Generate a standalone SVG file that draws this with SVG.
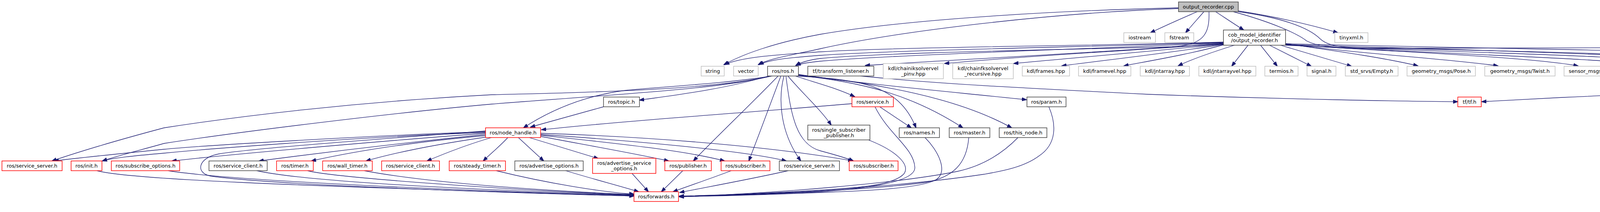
<svg xmlns="http://www.w3.org/2000/svg" width="5028" height="544" viewBox="0 0 5028 544">
<style>
rect{fill:#ffffff;stroke-width:1.5}
.g{stroke:#bfbfbf}
.k{stroke:#404040}
.r{stroke:#ff0000}
.m{fill:#bfbfbf;stroke:#404040}
text{font-family:"DejaVu Sans","Noto Sans",sans-serif;font-size:13px;text-anchor:middle;fill:#000000}
.e path{fill:none;stroke:#191970;stroke-width:1.3;marker-end:url(#a)}
</style>
<defs>
<marker id="a" viewBox="0 0 13 10" refX="12" refY="5" markerWidth="13" markerHeight="10" markerUnits="userSpaceOnUse" orient="auto"><path d="M0,0.5 L13,5 L0,9.5 z" fill="#191970" stroke="#191970" stroke-width="1"/></marker>
</defs>
<rect x="0" y="0" width="5028" height="544" style="fill:#ffffff;stroke:none"/>
<g id="edges" class="e">
<path d="M3065,30 C3030,45 2985,65 2945,84"/>
<path d="M3082,30 C3070,44 3052,64 3035,84"/>
<path d="M3112,30 C3135,45 3160,62 3184,77"/>
<path d="M3017,20 C2760,26 2350,45 2100,88 C1980,110 1900,140 1853,166"/>
<path d="M3017,22 C2700,32 2300,80 2100,125 C2020,143 1970,150 1941,166"/>
<path d="M3095,30 C3097,90 3080,115 3000,120 C2700,128 2250,135 2100,150 C2070,154 2050,160 2037,168"/>
<path d="M3170,28 C3260,42 3350,62 3425,84"/>
<path d="M3170,30 C3280,45 3350,70 3380,100 C3400,118 3430,122 3500,123 C3900,126 4400,115 4620,133 C4750,145 4850,158 4917,169"/>
<path d="M3157,30 C3250,55 3320,85 3345,105 C3370,118 3400,122 3500,124 C3900,130 4400,145 4620,159 C4660,162 4690,165 4708,169"/>
<path d="M3132,108 C2800,118 2300,120 2100,133 C2000,140 1900,145 1855,166"/>
<path d="M3132,109 C2800,120 2300,128 2100,142 C2020,148 1970,153 1943,166"/>
<path d="M3132,110 C2800,125 2300,140 2100,157 C2070,160 2050,163 2038,168"/>
<path d="M3132,111 C2900,130 2500,150 2215,168"/>
<path d="M3132,112 C2900,130 2600,145 2418,163"/>
<path d="M3132,113 C2950,132 2750,148 2595,163"/>
<path d="M3132,114 C3000,135 2850,152 2718,169"/>
<path d="M3132,115 C3050,138 2950,155 2877,169"/>
<path d="M3160,116 C3100,135 3050,152 3016,169"/>
<path d="M3195,116 L3153,170"/>
<path d="M3227,116 L3270,170"/>
<path d="M3250,116 L3357,170"/>
<path d="M3278,116 L3460,170"/>
<path d="M3291,112 C3450,135 3550,150 3630,169"/>
<path d="M3291,113 C3500,140 3700,150 3835,169"/>
<path d="M3291,114 C3600,135 3900,145 4040,169"/>
<path d="M3291,115 C3700,140 4100,148 4233,169"/>
<path d="M3291,116 C3700,135 4200,140 4358,169"/>
<path d="M3291,114 C3800,130 4300,140 4493,169"/>
<path d="M3291,112 C3900,128 4500,130 4620,153 C4750,156 4860,158 4910,169"/>
<path d="M2203,195 C2400,215 2600,225 2940,242 C3300,255 3600,260 3732,261"/>
<path d="M4707,195 C4500,220 4200,242 4000,250 C3900,255 3850,258 3793,261"/>
<path d="M1977,195 C1850,215 1700,222 1600,232 C1480,248 1395,292 1340,328"/>
<path d="M1975,195 C1850,225 1600,236 1260,243 C900,262 600,300 420,328 C300,360 200,390 133,413"/>
<path d="M1972,195 C1850,228 1600,240 1260,267 C1000,290 600,340 420,368 C360,385 300,400 262,413"/>
<path d="M1968,195 C1850,230 1720,245 1637,257"/>
<path d="M1992,195 C1930,260 1830,355 1775,413"/>
<path d="M1999,195 C1975,260 1945,340 1917,413"/>
<path d="M2007,195 C1995,240 1990,330 2050,413"/>
<path d="M2012,195 C2025,300 2040,370 2100,387 C2130,395 2160,403 2185,413"/>
<path d="M2017,195 C2050,235 2100,280 2128,321"/>
<path d="M2036,195 C2080,210 2140,225 2188,248"/>
<path d="M2040,195 C2200,205 2300,215 2345,328"/>
<path d="M2042,193 C2200,210 2330,240 2465,328"/>
<path d="M2043,192 C2250,215 2450,250 2590,328"/>
<path d="M2044,191 C2200,215 2450,237 2628,256"/>
<path d="M1545,274 L1358,326"/>
<path d="M2181,266 C1900,290 1600,310 1386,333"/>
<path d="M2252,274 L2333,328"/>
<path d="M2240,274 C2275,345 2340,380 2342,430 C2343,470 2200,485 2100,492 C1950,500 1800,503 1739,504"/>
<path d="M2223,359 C2290,385 2330,420 2315,445 C2290,475 2200,482 2100,488 C1950,497 1800,502 1739,503"/>
<path d="M2368,353 C2400,385 2430,440 2395,462 C2350,485 2200,490 2100,494 C1950,500 1800,504 1739,504"/>
<path d="M2480,353 C2475,420 2440,455 2370,468 C2250,485 2000,497 1739,505"/>
<path d="M2606,353 C2570,390 2520,425 2450,440 C2300,470 2000,495 1739,505"/>
<path d="M2685,274 C2705,320 2705,370 2660,400 C2620,430 2560,440 2520,447 C2300,480 2000,497 1739,505"/>
<path d="M1243,338 C900,350 500,375 420,383 C300,395 200,405 138,413"/>
<path d="M1243,340 C900,352 500,385 420,393 C340,400 290,405 262,413"/>
<path d="M1243,342 C1000,360 600,395 440,413"/>
<path d="M1243,345 C1000,370 800,395 663,413"/>
<path d="M1243,348 C1050,365 900,390 797,413"/>
<path d="M1243,352 C1120,370 1010,392 937,413"/>
<path d="M1258,353 C1200,370 1140,393 1093,413"/>
<path d="M1300,353 C1280,375 1255,395 1237,413"/>
<path d="M1327,353 L1392,413"/>
<path d="M1355,353 L1532,407"/>
<path d="M1384,350 C1500,372 1620,393 1712,413"/>
<path d="M1384,347 C1550,365 1750,385 1855,413"/>
<path d="M1384,345 C1600,360 1900,385 2013,413"/>
<path d="M1384,342 C1700,352 2000,380 2183,413"/>
<path d="M1243,336 C1000,355 650,380 560,395 C505,405 500,445 540,452 C700,475 1300,495 1623,503"/>
<path d="M248,438 C330,460 700,475 1623,503"/>
<path d="M430,438 C600,465 1200,490 1623,502"/>
<path d="M657,438 C800,470 1300,490 1623,501"/>
<path d="M787,438 C850,455 1300,488 1623,500"/>
<path d="M932,438 C1100,470 1400,490 1623,499"/>
<path d="M1270,438 C1400,470 1540,493 1623,498"/>
<path d="M1448,438 C1520,460 1590,478 1635,492"/>
<path d="M1618,445 L1660,492"/>
<path d="M1748,438 L1693,492"/>
<path d="M1872,438 C1820,458 1760,478 1723,492"/>
<path d="M2018,438 C1920,460 1820,478 1740,494"/>
</g>
<g id="n0"><rect class="m" x="3017" y="5" width="153" height="25"/><text x="3093.5" y="22">output_recorder.cpp</text></g>
<g id="n1"><rect class="g" x="2877" y="84" width="81" height="25"/><text x="2917.5" y="101">iostream</text></g>
<g id="n2"><rect class="g" x="2982" y="84" width="74" height="25"/><text x="3019" y="101">fstream</text></g>
<g id="n3"><rect class="k" x="3132" y="77" width="159" height="39"/><text x="3211.5" y="94">cob_model_identifier</text><text x="3211.5" y="107.5">/output_recorder.h</text></g>
<g id="n4"><rect class="g" x="3417" y="84" width="85" height="25"/><text x="3459.5" y="101">tinyxml.h</text></g>
<g id="n5"><rect class="g" x="1795" y="170" width="59" height="25"/><text x="1824.5" y="187">string</text></g>
<g id="n6"><rect class="g" x="1878" y="170" width="63" height="25"/><text x="1909.5" y="187">vector</text></g>
<g id="n7"><rect class="k" x="1965" y="170" width="79" height="25"/><text x="2004.5" y="187">ros/ros.h</text></g>
<g id="n8"><rect class="k" x="2068" y="170" width="169" height="25"/><text x="2152.5" y="187">tf/transform_listener.h</text></g>
<g id="n9"><rect class="g" x="2261" y="163" width="154" height="39"/><text x="2338" y="180">kdl/chainiksolvervel</text><text x="2338" y="193.5">_pinv.hpp</text></g>
<g id="n10"><rect class="g" x="2439" y="163" width="155" height="39"/><text x="2516.5" y="180">kdl/chainfksolvervel</text><text x="2516.5" y="193.5">_recursive.hpp</text></g>
<g id="n11"><rect class="g" x="2617" y="170" width="121" height="25"/><text x="2677.5" y="187">kdl/frames.hpp</text></g>
<g id="n12"><rect class="g" x="2761" y="170" width="134" height="25"/><text x="2828" y="187">kdl/framevel.hpp</text></g>
<g id="n13"><rect class="g" x="2919" y="170" width="126" height="25"/><text x="2982" y="187">kdl/jntarray.hpp</text></g>
<g id="n14"><rect class="g" x="3069" y="170" width="146" height="25"/><text x="3142" y="187">kdl/jntarrayvel.hpp</text></g>
<g id="n15"><rect class="g" x="3238" y="170" width="85" height="25"/><text x="3280.5" y="187">termios.h</text></g>
<g id="n16"><rect class="g" x="3346" y="170" width="74" height="25"/><text x="3383" y="187">signal.h</text></g>
<g id="n17"><rect class="g" x="3444" y="170" width="135" height="25"/><text x="3511.5" y="187">std_srvs/Empty.h</text></g>
<g id="n18"><rect class="g" x="3602" y="170" width="175" height="25"/><text x="3689.5" y="187">geometry_msgs/Pose.h</text></g>
<g id="n19"><rect class="g" x="3801" y="170" width="180" height="25"/><text x="3891" y="187">geometry_msgs/Twist.h</text></g>
<g id="n20"><rect class="g" x="4004" y="170" width="188" height="25"/><text x="4098" y="187">sensor_msgs/JointState.h</text></g>
<g id="n21"><rect class="g" x="4216" y="170" width="103" height="25"/><text x="4267.5" y="187">Eigen/Dense</text></g>
<g id="n22"><rect class="g" x="4342" y="170" width="90" height="25"/><text x="4387" y="187">Eigen/SVD</text></g>
<g id="n23"><rect class="r" x="4455" y="170" width="192" height="25"/><text x="4551" y="187">kdl_parser/kdl_parser.hpp</text></g>
<g id="n24"><rect class="k" x="4670" y="170" width="197" height="25"/><text x="4768.5" y="187">tf/transform_broadcaster.h</text></g>
<g id="n25"><rect class="g" x="4890" y="170" width="133" height="25"/><text x="4956.5" y="187">boost/thread.hpp</text></g>
<g id="n26"><rect class="k" x="1545" y="249" width="92" height="25"/><text x="1591" y="266">ros/topic.h</text></g>
<g id="n27"><rect class="r" x="2181" y="249" width="106" height="25"/><text x="2234" y="266">ros/service.h</text></g>
<g id="n28"><rect class="k" x="2629" y="249" width="100" height="25"/><text x="2679" y="266">ros/param.h</text></g>
<g id="n29"><rect class="r" x="3732" y="249" width="60" height="25"/><text x="3762" y="266">tf/tf.h</text></g>
<g id="n30"><rect class="r" x="1243" y="328" width="141" height="25"/><text x="1313.5" y="345">ros/node_handle.h</text></g>
<g id="n31"><rect class="k" x="2068" y="321" width="159" height="38"/><text x="2147.5" y="338">ros/single_subscriber</text><text x="2147.5" y="351.5">_publisher.h</text></g>
<g id="n32"><rect class="k" x="2302" y="328" width="103" height="25"/><text x="2353.5" y="345">ros/names.h</text></g>
<g id="n33"><rect class="k" x="2430" y="328" width="104" height="25"/><text x="2482" y="345">ros/master.h</text></g>
<g id="n34"><rect class="k" x="2558" y="328" width="122" height="25"/><text x="2619" y="345">ros/this_node.h</text></g>
<g id="n35"><rect class="r" x="5" y="413" width="154" height="25"/><text x="82" y="430">ros/service_server.h</text></g>
<g id="n36"><rect class="r" x="182" y="413" width="79" height="25"/><text x="221.5" y="430">ros/init.h</text></g>
<g id="n37"><rect class="r" x="285" y="413" width="175" height="25"/><text x="372.5" y="430">ros/subscribe_options.h</text></g>
<g id="n38"><rect class="k" x="535" y="413" width="149" height="25"/><text x="609.5" y="430">ros/service_client.h</text></g>
<g id="n39"><rect class="r" x="708" y="413" width="94" height="25"/><text x="755" y="430">ros/timer.h</text></g>
<g id="n40"><rect class="r" x="826" y="413" width="127" height="25"/><text x="889.5" y="430">ros/wall_timer.h</text></g>
<g id="n41"><rect class="r" x="977" y="413" width="148" height="25"/><text x="1051" y="430">ros/service_client.h</text></g>
<g id="n42"><rect class="r" x="1150" y="413" width="144" height="25"/><text x="1222" y="430">ros/steady_timer.h</text></g>
<g id="n43"><rect class="k" x="1318" y="413" width="175" height="25"/><text x="1405.5" y="430">ros/advertise_options.h</text></g>
<g id="n44"><rect class="r" x="1517" y="406" width="162" height="39"/><text x="1598" y="423">ros/advertise_service</text><text x="1598" y="436.5">_options.h</text></g>
<g id="n45"><rect class="r" x="1702" y="413" width="119" height="25"/><text x="1761.5" y="430">ros/publisher.h</text></g>
<g id="n46"><rect class="r" x="1846" y="413" width="125" height="25"/><text x="1908.5" y="430">ros/subscriber.h</text></g>
<g id="n47"><rect class="k" x="1995" y="413" width="154" height="25"/><text x="2072" y="430">ros/service_server.h</text></g>
<g id="n48"><rect class="r" x="2174" y="413" width="125" height="25"/><text x="2236.5" y="430">ros/subscriber.h</text></g>
<g id="n49"><rect class="r" x="1623" y="492" width="114" height="25"/><text x="1680" y="509">ros/forwards.h</text></g>
</svg>
